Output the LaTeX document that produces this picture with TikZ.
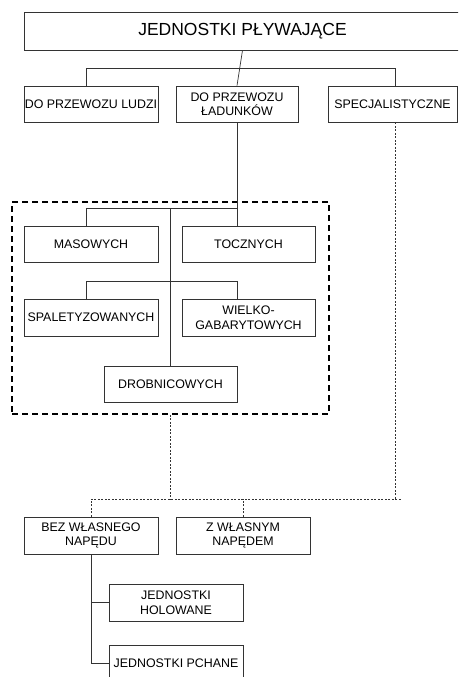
\documentclass[tikz,border=0pt]{standalone}
\usepackage{fontspec}
\setmainfont{Liberation Sans}
\usetikzlibrary{positioning,calc}

\begin{document}
\begin{tikzpicture}[x=1pt,y=-1pt,
  blok/.style={draw=black!80, line width=0.7pt, align=center, inner sep=1pt, font=\fontsize{12.4}{14.5}\selectfont},
  ramka/.style={draw=black, line width=1.6pt, dash pattern=on 6pt off 4pt},
  linia/.style={draw=black!80, line width=0.7pt},
  kropki/.style={draw=black!80, line width=0.7pt, dash pattern=on 2pt off 1.5pt}]
  \useasboundingbox (0,0) rectangle (458,677);
  \clip (0,0) rectangle (458,677);
  % gorny poziom
  \node[blok, minimum width=437, minimum height=38, font=\fontsize{17.5}{20}\selectfont] (jednostki) at (242.5,31) {JEDNOSTKI PŁYWAJĄCE};
  \node[blok, minimum width=134, minimum height=36] (ludzi) at (91,104) {DO PRZEWOZU LUDZI};
  \node[blok, minimum width=122, minimum height=36] (ladunki) at (237,104) {DO PRZEWOZU\\ŁADUNKÓW};
  \node[blok, minimum width=129, minimum height=36] (specjal) at (392.5,104) {SPECJALISTYCZNE};
  % ladunki
  \node[ramka, minimum width=317, minimum height=212] (grupa) at (170.5,308) {};
  \node[blok, minimum width=134, minimum height=36] (masowe) at (91,244) {MASOWYCH};
  \node[blok, minimum width=133, minimum height=36] (toczne) at (248.5,244) {TOCZNYCH};
  \node[blok, minimum width=134, minimum height=37] (palety) at (91,317.5) {SPALETYZOWANYCH};
  \node[blok, minimum width=133, minimum height=37] (wielko) at (248.5,317.5) {WIELKO-\\GABARYTOWYCH};
  \node[blok, minimum width=133, minimum height=36] (drobnica) at (170.5,384) {DROBNICOWYCH};
  % naped
  \node[blok, minimum width=134, minimum height=37] (bez) at (91,535.5) {BEZ WŁASNEGO\\NAPĘDU};
  \node[blok, minimum width=134, minimum height=37] (zwlasnym) at (243,535.5) {Z WŁASNYM\\NAPĘDEM};
  \node[blok, minimum width=134, minimum height=37] (holowane) at (176,602.5) {JEDNOSTKI\\HOLOWANE};
  \node[blok, minimum width=134, minimum height=36] (pchane) at (176,663) {JEDNOSTKI PCHANE};

  \coordinate (g1) at (86,68); \coordinate (g2) at (395,68);
  \draw[linia] (jednostki.south) -- (ladunki.north);
  \draw[linia] (ludzi.north -| g1) -- (g1) -- (g2) -- (specjal.north -| g2);
  \draw[linia] (ladunki.south) -- (ladunki.south |- toczne.north);
  \coordinate (m1) at (86,208); \coordinate (m2) at (237,208);
  \draw[linia] (masowe.north -| m1) -- (m1) -- (m2);
  \draw[linia] (drobnica.north) -- (drobnica.north |- m1);
  \coordinate (p1) at (86,281); \coordinate (p2) at (237,281);
  \draw[linia] (palety.north -| p1) -- (p1) -- (p2) -- (wielko.north -| p2);

  \coordinate (k1) at (91,499); \coordinate (k2) at (402,499);
  \draw[kropki] (grupa.south) -- (grupa.south |- k1);
  \draw[kropki] (specjal.south -| g2) -- (g2 |- k1);
  \draw[kropki] (bez.north) -- (k1) -- (k2);
  \draw[kropki] (zwlasnym.north) -- (zwlasnym.north |- k1);

  \draw[linia] (bez.south) -- (bez.south |- pchane.west) -- (pchane.west);
  \draw[linia] (bez.south |- holowane.west) -- (holowane.west);
\end{tikzpicture}
\end{document}
